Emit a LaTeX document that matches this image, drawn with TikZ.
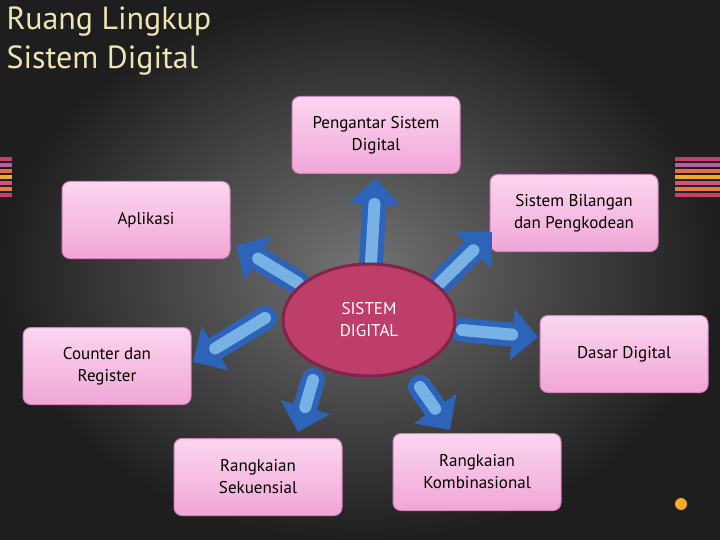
\documentclass[tikz,border=0pt]{standalone}
\usepackage{fontspec}
\setmainfont{PT Sans}
\usetikzlibrary{arrows.meta,shapes.geometric}
\definecolor{boxtop}{RGB}{252,214,240}
\definecolor{boxbot}{RGB}{240,166,214}
\definecolor{boxline}{RGB}{214,130,186}
\definecolor{ellfill}{RGB}{190,62,106}
\definecolor{ellline}{RGB}{130,36,74}
\definecolor{arrdark}{RGB}{45,100,185}
\definecolor{arrlight}{RGB}{120,178,228}
\definecolor{titlecol}{RGB}{238,228,180}
\tikzset{
  topic/.style={draw=boxline, line width=1pt, rounded corners=8pt, top color=boxtop, bottom color=boxbot,
    minimum width=168pt, minimum height=77pt, align=center, font=\fontsize{17}{22}\selectfont, text=black},
  blockarrow/.style={line width=24pt, draw=arrdark, line cap=round,
    -{Triangle[length=26pt,width=50pt]}},
  blockinner/.style={line width=12pt, draw=arrlight, line cap=round, shorten >=26pt}
}
\begin{document}
\begin{tikzpicture}[x=1pt,y=-1pt]
\useasboundingbox (0,0) rectangle (720,540);
\fill[color={rgb,255:red,30;green,30;blue,30}] (0,0) rectangle (720,540);
\shade[inner color={rgb,255:red,115;green,115;blue,115}, outer color={rgb,255:red,30;green,30;blue,30}] (0,0) rectangle (720,540);
% title
\node[anchor=north west, align=left, text=titlecol, font=\fontsize{32}{39}\selectfont] (title) at (3,3) {Ruang Lingkup\\Sistem Digital};
% side stripes
\foreach \i/\c in {0/{rgb,255:red,200;green,60;blue,110},1/{rgb,255:red,190;green,90;blue,170},2/{rgb,255:red,230;green,110;blue,60},3/{rgb,255:red,240;green,170;blue,50},4/{rgb,255:red,210;green,80;blue,130},5/{rgb,255:red,235;green,120;blue,60},6/{rgb,255:red,200;green,60;blue,110}}{
  \fill[color=\c] (0,157+\i*6) rectangle (12,161+\i*6);
  \fill[color=\c] (675,157+\i*6) rectangle (720,161+\i*6);
}
\fill[color={rgb,255:red,245;green,170;blue,40}] (681,504) circle (6);
% nodes
\node[topic] (peng) at (376,135) {Pengantar Sistem\\Digital};
\node[topic] (apl) at (146,220) {Aplikasi};
\node[topic] (bil) at (574,213) {Sistem Bilangan\\dan Pengkodean};
\node[topic] (cnt) at (107,366) {Counter dan\\Register};
\node[topic] (das) at (624,354) {Dasar Digital};
\node[topic] (seq) at (258,477) {Rangkaian\\Sekuensial};
\node[topic] (kom) at (477,472) {Rangkaian\\Kombinasional};
% arrows
\coordinate (t1) at (371,262); \coordinate (h1) at (376,178);
\coordinate (t2) at (298,283); \coordinate (h2) at (236,245);
\coordinate (t3) at (440,283); \coordinate (h3) at (492,232);
\coordinate (t4) at (265,318); \coordinate (h4) at (193,362);
\coordinate (t5) at (462,330); \coordinate (h5) at (538,337);
\coordinate (t6) at (313,380); \coordinate (h6) at (298,432);
\coordinate (t7) at (420,387); \coordinate (h7) at (450,430);
\foreach \k in {1,...,7}{
  \draw[blockarrow] (t\k) -- (h\k);
  \draw[blockinner] (t\k) -- (h\k);
}
\node[ellipse, draw=ellline, line width=3pt, fill=ellfill, minimum width=172pt, minimum height=112pt,
  align=center, text=white, font=\fontsize{17}{22}\selectfont] (sd) at (369,320) {SISTEM\\DIGITAL};
\end{tikzpicture}
\end{document}
